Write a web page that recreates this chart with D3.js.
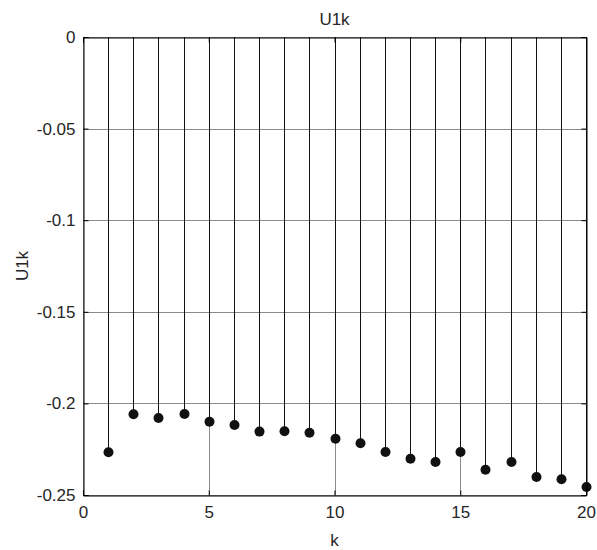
<!DOCTYPE html>
<html>
<head>
<meta charset="utf-8">
<script src="https://cdn.jsdelivr.net/npm/d3@7"></script>
<style>
  html, body { margin: 0; padding: 0; background: #fff; }
  text { font-family: "Liberation Sans", Arial, sans-serif; fill: #262626; }
</style>
</head>
<body>
<svg id="chart" width="597" height="550"></svg>
<script>
const kValues = [1,2,3,4,5,6,7,8,9,10,11,12,13,14,15,16,17,18,19,20];
const u1kValues = [-0.2267,-0.2059,-0.2080,-0.2058,-0.2100,-0.2118,-0.2154,-0.2152,-0.2160,-0.2193,
                   -0.2218,-0.2265,-0.2302,-0.2320,-0.2265,-0.2362,-0.2320,-0.2402,-0.2414,-0.2456];
const xTicks = [0,5,10,15,20];
const yTicks = [0,-0.05,-0.1,-0.15,-0.2,-0.25];
const yTickLabels = ["0","-0.05","-0.1","-0.15","-0.2","-0.25"];
const titleText = "U1k";
const xLabel = "k";
const yLabel = "U1k";

const svg = d3.select("#chart");
const m = {left: 83, right: 586, top: 37, bottom: 495};
const x = d3.scaleLinear().domain([0,20]).range([m.left, m.right]);
const y = d3.scaleLinear().domain([-0.25,0]).range([m.bottom, m.top]);
const fs = 17;

// grid
const g = svg.append("g");
g.selectAll("line.hg").data(yTicks).join("line")
  .attr("x1", m.left).attr("x2", m.right)
  .attr("y1", d => Math.round(y(d)) + 0.5).attr("y2", d => Math.round(y(d)) + 0.5)
  .attr("stroke", "#8a8a8a").attr("stroke-width", 1);
g.selectAll("line.vg").data(xTicks).join("line")
  .attr("y1", m.top).attr("y2", m.bottom)
  .attr("x1", d => Math.round(x(d)) + 0.5).attr("x2", d => Math.round(x(d)) + 0.5)
  .attr("stroke", "#8a8a8a").attr("stroke-width", 1);

// stems
svg.append("g").selectAll("line").data(kValues).join("line")
  .attr("x1", d => Math.round(x(d)) + 0.5).attr("x2", d => Math.round(x(d)) + 0.5)
  .attr("y1", y(0)).attr("y2", (d,i) => y(u1kValues[i]))
  .attr("stroke", "#111").attr("stroke-width", 1);

// markers
svg.append("g").selectAll("circle").data(kValues).join("circle")
  .attr("cx", d => Math.round(x(d)) + 0.5)
  .attr("cy", (d,i) => y(u1kValues[i]))
  .attr("r", 5)
  .attr("fill", "#111");

// axes box
const xAxisB = d3.axisBottom(x).tickValues(xTicks).tickSize(-5).tickFormat(d3.format("d")).tickPadding(10);
const xAxisT = d3.axisTop(x).tickValues(xTicks).tickSize(-5).tickFormat("");
const yAxisL = d3.axisLeft(y).tickValues(yTicks).tickSize(-5).tickFormat((d,i) => yTickLabels[i]).tickPadding(8);
const yAxisR = d3.axisRight(y).tickValues(yTicks).tickSize(-5).tickFormat("");

function style(sel) {
  sel.select(".domain").attr("stroke", "#000").attr("stroke-width", 1);
  sel.selectAll(".tick line").attr("stroke", "#000");
  sel.selectAll("text").style("font-size", fs + "px").attr("fill", "#262626")
     .style("font-family", "'Liberation Sans', Arial, sans-serif");
}
svg.append("g").attr("transform", `translate(0,${m.bottom + 0.5})`).call(xAxisB).call(style);
svg.append("g").attr("transform", `translate(0,${m.top + 0.5})`).call(xAxisT).call(style);
svg.append("g").attr("transform", `translate(${m.left + 0.5},0)`).call(yAxisL).call(style);
svg.append("g").attr("transform", `translate(${m.right + 0.5},0)`).call(yAxisR).call(style);

// labels
svg.append("text").attr("x", (m.left + m.right)/2).attr("y", 25)
  .attr("text-anchor", "middle").style("font-size", fs + "px").text(titleText);
svg.append("text").attr("x", (m.left + m.right)/2).attr("y", 546)
  .attr("text-anchor", "middle").style("font-size", fs + "px").text(xLabel);
svg.append("text").attr("transform", `translate(28,${(m.top + m.bottom)/2}) rotate(-90)`)
  .attr("text-anchor", "middle").style("font-size", fs + "px").text(yLabel);
</script>
</body>
</html>
